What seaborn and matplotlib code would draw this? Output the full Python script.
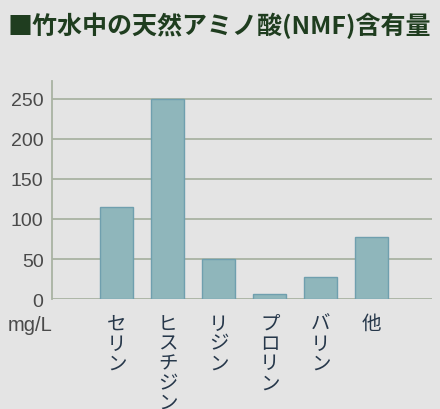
import matplotlib
matplotlib.use("Agg")
import matplotlib.pyplot as plt
import pandas as pd
import seaborn as sns

categories = ["セリン", "ヒスチジン", "リジン", "プロリン", "バリン", "他"]
values = [115, 250, 50, 7, 28, 78]
yticks = [0, 50, 100, 150, 200, 250]

sns.set_theme(style="white")
plt.rcParams["font.family"] = ["Noto Sans CJK JP", "DejaVu Sans"]

BG = "#e4e4e4"
df = pd.DataFrame({"name": categories, "value": values})

fig = plt.figure(figsize=(4.4, 4.1), dpi=100, facecolor=BG)
ax = fig.add_axes([0.118, 0.268, 0.864, 0.532])
ax.set_facecolor(BG)

sns.barplot(data=df, x="name", y="value", order=categories, color="#8fb6bb",
            saturation=1, width=0.65, edgecolor="#6f9fae", linewidth=1, ax=ax, zorder=3)

ax.set_xlim(-1.27, 6.18)
ax.set_ylim(0, 272)
ax.set_yticks(yticks)
ax.set_yticklabels([str(t) for t in yticks], family="Liberation Sans",
                   fontsize=14, color="#4a4a4a")
ax.yaxis.grid(True, color="#a9b3a2", linewidth=1.3, zorder=0)
ax.set_axisbelow(True)
for s in ["top", "right", "bottom"]:
    ax.spines[s].set_visible(False)
ax.spines["left"].set_color("#a9b3a2")
ax.spines["left"].set_linewidth(1.3)
ax.tick_params(axis="y", length=0, pad=6)
ax.tick_params(axis="x", length=0, pad=10)
ax.set_xticklabels(["\n".join(c) for c in categories], fontsize=14,
                   color="#26374a", va="top", linespacing=0.92)
ax.set_xlabel("")
ax.set_ylabel("")

fig.text(0.018, 0.207, "mg/L", fontsize=14.5, family="Liberation Sans",
         color="#4a4a4a", va="center")
fig.text(0.016, 0.937, "■竹水中の天然アミノ酸(NMF)含有量", fontsize=18,
         fontweight="bold", color="#1f3d1f", va="center")

fig.savefig("out.png", dpi=100, facecolor=BG)
